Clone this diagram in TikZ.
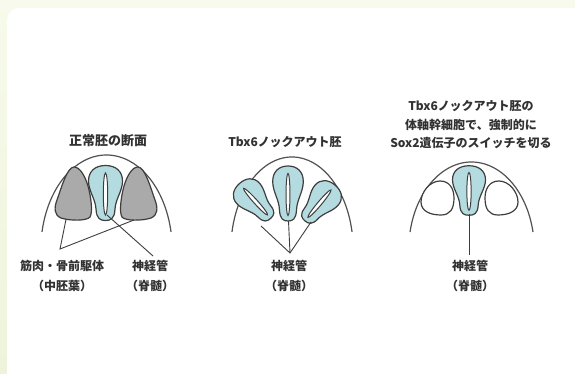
\documentclass[tikz,border=0pt]{standalone}
\usepackage{fontspec}
\newfontfamily\jp{Noto Sans CJK JP}
\definecolor{bgcream}{RGB}{247,250,236}
\definecolor{bgcreamlow}{RGB}{238,244,219}
\definecolor{tubefill}{RGB}{180,220,224}
\definecolor{somitefill}{RGB}{170,170,170}
\definecolor{ink}{RGB}{62,62,62}
\definecolor{txt}{RGB}{50,50,50}

\begin{document}
\begin{tikzpicture}[x=1pt,y=-1pt,
  outline/.style={draw=ink, line width=1.2pt, line join=round},
  tube/.style={outline, fill=tubefill},
  somite/.style={outline, fill=somitefill},
  hollow/.style={outline, fill=white},
  slit/.style={draw=ink, line width=1pt, fill=white},
  body/.style={draw=ink!90, line width=1.2pt},
  pointer/.style={draw=ink, line width=0.9pt},
  lbl/.style={font=\jp\bfseries\fontsize{12}{20}\selectfont, text=txt, align=center, inner sep=0pt},
  ttl/.style={lbl, font=\jp\bfseries\fontsize{12}{18.5}\selectfont},
  ntube/.pic={
    \path[tube] (0,-27.5) .. controls (10,-27.5) and (17,-22) .. (17,-12)
      .. controls (17,-2) and (10,6) .. (9.5,16)
      .. controls (9,26) and (5,27.5) .. (0,27.5)
      .. controls (-5,27.5) and (-9,26) .. (-9.5,16)
      .. controls (-10,6) and (-17,-2) .. (-17,-12)
      .. controls (-17,-22) and (-10,-27.5) .. (0,-27.5) -- cycle;
    \path[slit] (0,1) ellipse [x radius=2.2, y radius=21];
  },
]
\useasboundingbox (0,0) rectangle (575,374);

% page background and white panel
\shade[top color=bgcream, bottom color=bgcreamlow] (0,0) rectangle (575,374);
\fill[white, rounded corners=12pt] (7,8) rectangle (590,390);

% ---------- normal embryo ----------
\draw[body] (106.5,250) ++(191:65.7 and 95)
  arc[start angle=191, end angle=349, x radius=65.7, y radius=95];
\path[somite] (74,167) .. controls (80,167) and (85,176) .. (88,186)
  .. controls (91,197) and (93,212) .. (90,217)
  .. controls (87,221) and (70,221) .. (61,218)
  .. controls (54,215) and (54,208) .. (57,200)
  .. controls (61,189) and (67,167) .. (74,167) -- cycle;
\path[somite] (138,167) .. controls (132,167) and (127,176) .. (124,186)
  .. controls (121,197) and (119,212) .. (122,217)
  .. controls (125,221) and (142,221) .. (151,218)
  .. controls (158,215) and (158,208) .. (155,200)
  .. controls (151,189) and (145,167) .. (138,167) -- cycle;
\pic at (105.5,193) {ntube};

\node[ttl, font=\jp\bfseries\fontsize{13}{18.5}\selectfont] (t1) at (108,141) {正常胚の断面};
\node[lbl] (m1) at (62,276) {筋肉・骨前駆体\\（中胚葉）};
\node[lbl] (n1) at (150,276) {神経管\\（脊髄）};
\coordinate (m1top) at (60,249);
\coordinate (s1l) at (66,219.5);
\coordinate (s1r) at (134,220);
\coordinate (nt1) at (107,215);
\coordinate (n1top) at (153,256);
\draw[pointer] (s1l) -- (m1top) -- (s1r);
\draw[pointer] (nt1) -- (n1top);

% ---------- Tbx6 knockout ----------
\draw[body] (292,250) ++(191.2:61.2 and 93)
  arc[start angle=191.2, end angle=348.8, x radius=61.2, y radius=93];
\pic[rotate=42, xscale=0.9, yscale=0.85] at (255,201) {ntube};
\pic[rotate=-40, xscale=0.9, yscale=0.85] at (320,203) {ntube};
\pic[xscale=0.9] at (288,193.5) {ntube};

\node[ttl] (t2) at (285,142) {Tbx6ノックアウト胚};
\node[lbl] (n2) at (289,276) {神経管\\（脊髄）};
\coordinate (n2top) at (290,253);
\coordinate (l2) at (261,226);
\coordinate (c2) at (288.5,221);
\coordinate (r2) at (311,222);
\draw[pointer] (l2) -- (n2top) -- (r2);
\draw[pointer] (c2) -- (n2top);

% ---------- Tbx6 knockout with Sox2 switched off ----------
\draw[body] (471.5,250) ++(191.8:62.8 and 88)
  arc[start angle=191.8, end angle=348.2, x radius=62.8, y radius=88];
\path[hollow] (440,181) .. controls (449,181) and (454,188) .. (454,198)
  .. controls (454,209) and (450,215) .. (441,215)
  .. controls (430,215) and (421,211) .. (421,202)
  .. controls (421,192) and (430,181) .. (440,181) -- cycle;
\path[hollow] (499,181) .. controls (490,181) and (485,188) .. (485,198)
  .. controls (485,209) and (489,215) .. (498,215)
  .. controls (509,215) and (518,211) .. (518,202)
  .. controls (518,192) and (509,181) .. (499,181) -- cycle;
\pic[xscale=0.97, yscale=0.9] at (469,190.5) {ntube};

\node[ttl] (t3) at (471,125) {Tbx6ノックアウト胚の\\体軸幹細胞で、強制的に\\Sox2遺伝子のスイッチを切る};
\node[lbl] (n3) at (470,276) {神経管\\（脊髄）};
\coordinate (c3) at (469.5,214);
\coordinate (n3top) at (469.5,255);
\draw[pointer] (c3) -- (n3top);
\end{tikzpicture}
\end{document}
